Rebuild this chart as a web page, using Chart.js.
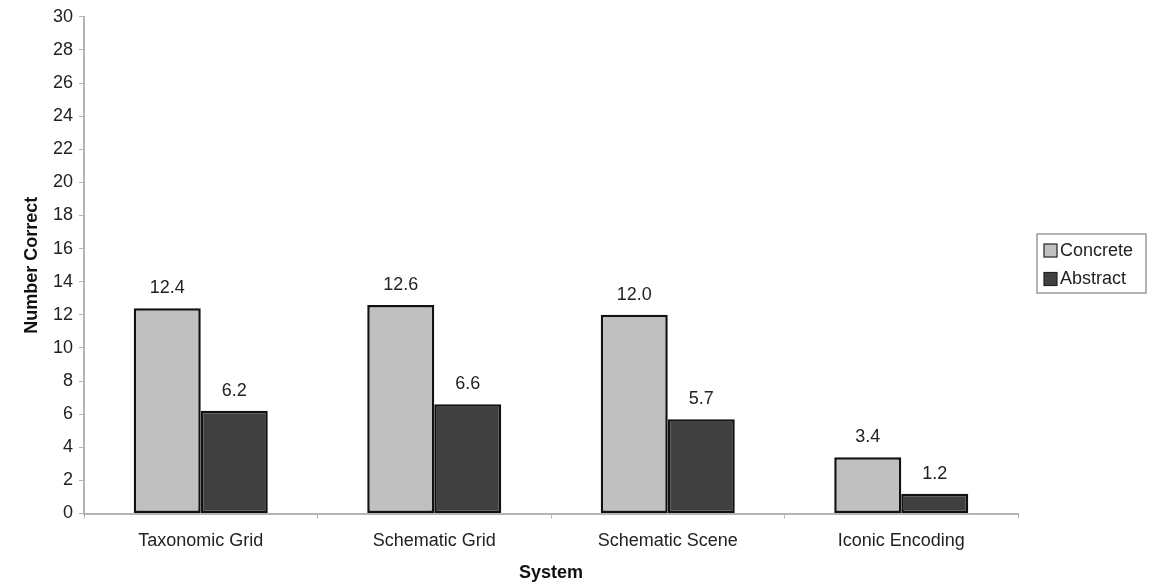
<!DOCTYPE html>
<html>
<head>
<meta charset="utf-8">
<script src="https://cdn.jsdelivr.net/npm/chart.js@4/dist/chart.umd.min.js"></script>
<style>
  html, body { margin: 0; padding: 0; background: #fff; }
  #wrap { width: 1156px; height: 586px; }
</style>
</head>
<body>
<div id="wrap"><canvas id="chart" width="1156" height="586"></canvas></div>
<script>
const categories = ['Taxonomic Grid', 'Schematic Grid', 'Schematic Scene', 'Iconic Encoding'];
const concrete = [12.4, 12.6, 12.0, 3.4];
const abstract = [6.2, 6.6, 5.7, 1.2];
const seriesNames = ['Concrete', 'Abstract'];
const yTicks = [0, 2, 4, 6, 8, 10, 12, 14, 16, 18, 20, 22, 24, 26, 28, 30];

const FONT = "'Liberation Sans', Arial, sans-serif";
const AXIS_GRAY = '#b4b4b4';

// values above each bar
const valueLabels = {
  id: 'valueLabels',
  afterDatasetsDraw(chart) {
    const ctx = chart.ctx;
    ctx.save();
    ctx.font = '18px ' + FONT;
    ctx.fillStyle = '#222';
    ctx.textAlign = 'center';
    ctx.textBaseline = 'middle';
    chart.data.datasets.forEach((ds, i) => {
      chart.getDatasetMeta(i).data.forEach((bar, j) => {
        ctx.fillText(ds.data[j].toFixed(1), bar.x, bar.y - 20);
      });
    });
    ctx.restore();
  }
};

// boxed legend on the right
const boxLegend = {
  id: 'boxLegend',
  afterDraw(chart) {
    const ctx = chart.ctx;
    const x = 1037, y = 234, w = 109, h = 59;
    ctx.save();
    ctx.strokeStyle = '#9a9a9a';
    ctx.lineWidth = 1.5;
    ctx.strokeRect(x, y, w, h);
    ctx.font = '18px ' + FONT;
    ctx.textBaseline = 'middle';
    chart.data.datasets.forEach((ds, i) => {
      const cy = y + 16 + i * 28.5;
      ctx.fillStyle = ds.backgroundColor;
      ctx.fillRect(x + 7, cy - 6, 13, 13);
      ctx.strokeStyle = '#222';
      ctx.lineWidth = 1.2;
      ctx.strokeRect(x + 7, cy - 6, 13, 13);
      ctx.fillStyle = '#222';
      ctx.fillText(ds.label, x + 23, cy + 1);
    });
    ctx.restore();
  }
};

new Chart(document.getElementById('chart').getContext('2d'), {
  type: 'bar',
  data: {
    labels: categories,
    datasets: [
      { label: seriesNames[0], data: concrete, backgroundColor: '#c0c0c0' },
      { label: seriesNames[1], data: abstract, backgroundColor: '#404040' }
    ]
  },
  options: {
    responsive: false,
    animation: false,
    layout: { padding: { left: 0, top: 15, right: 138, bottom: 0 } },
    datasets: {
      bar: {
        borderColor: '#111',
        borderWidth: 2.5,
        borderSkipped: false,
        categoryPercentage: 0.574,
        barPercentage: 1
      }
    },
    plugins: {
      legend: { display: false },
      tooltip: { enabled: false }
    },
    scales: {
      x: {
        afterFit: s => { s.height = 72.5; },
        border: { display: true, color: AXIS_GRAY, width: 2 },
        grid: { drawOnChartArea: false, drawTicks: true, tickLength: 5, color: AXIS_GRAY, offset: true },
        ticks: { font: { family: FONT, size: 18 }, color: '#222', padding: 12, maxRotation: 0 },
        title: { display: true, text: 'System', font: { family: FONT, size: 18, weight: 'bold' }, color: '#111', padding: { top: 0, bottom: 2 } }
      },
      y: {
        min: 0,
        max: 30,
        afterFit: s => { s.width = 84; },
        afterBuildTicks: s => { s.ticks = yTicks.map(v => ({ value: v })); },
        border: { display: true, color: AXIS_GRAY, width: 2 },
        grid: { drawOnChartArea: false, drawTicks: true, tickLength: 5, color: AXIS_GRAY },
        ticks: { font: { family: FONT, size: 18 }, color: '#222', padding: 6 },
        title: { display: true, text: 'Number Correct', font: { family: FONT, size: 18, weight: 'bold' }, color: '#111', padding: { top: 21, bottom: 0 } }
      }
    }
  },
  plugins: [valueLabels, boxLegend]
});
</script>
</body>
</html>
